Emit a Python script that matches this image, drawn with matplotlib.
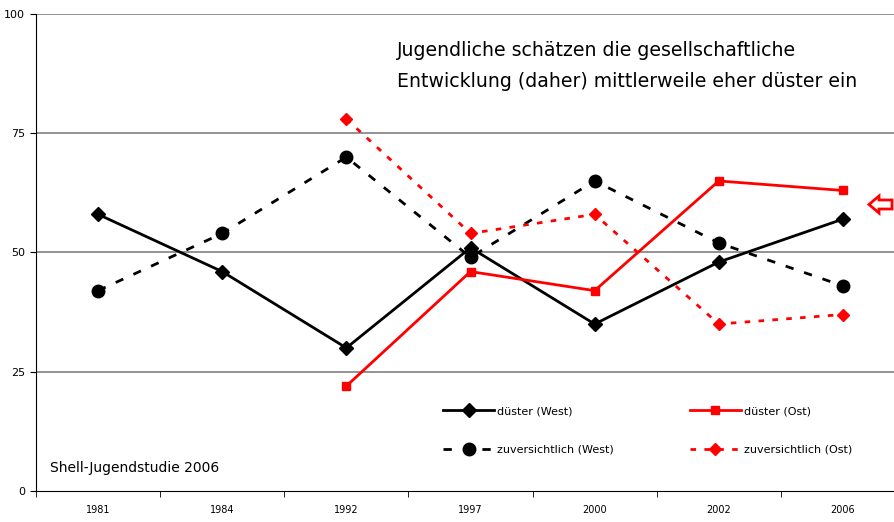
import matplotlib
matplotlib.use('Agg')
import matplotlib.pyplot as plt
from matplotlib.patches import Polygon

plt.rcParams['font.family'] = ['DejaVu Sans']

years = ['1981', '1984', '1992', '1997', '2000', '2002', '2006']
duester_west = [58, 46, 30, 51, 35, 48, 57]
duester_ost = [None, None, 22, 46, 42, 65, 63]
zuversicht_west = [42, 54, 70, 49, 65, 52, 43]
zuversicht_ost = [None, None, 78, 54, 58, 35, 37]
y_ticks = [0, 25, 50, 75, 100]

fig = plt.figure(figsize=(8.94, 5.22), dpi=100)
ax = fig.add_axes([36 / 894, 31 / 522, (905 - 36) / 894, (491 - 14) / 522])

x = list(range(len(years)))

def pts(vals):
    xs = [i for i, v in zip(x, vals) if v is not None]
    ys = [v for v in vals if v is not None]
    return xs, ys

l_dw, = ax.plot(*pts(duester_west), color='black', lw=2, marker='D', ms=7,
                label='düster (West)')
l_do, = ax.plot(*pts(duester_ost), color='red', lw=2, marker='s', ms=6,
                label='düster (Ost)')
l_zw, = ax.plot(*pts(zuversicht_west), color='black', lw=2, ls=(0, (3, 4)),
                marker='o', ms=9, label='zuversichtlich (West)')
l_zo, = ax.plot(*pts(zuversicht_ost), color='red', lw=2, ls=(0, (2, 3)),
                marker='D', ms=6, label='zuversichtlich (Ost)')

ax.set_xlim(-0.5, len(years) - 0.5)
ax.set_ylim(0, 100)
ax.set_yticks(y_ticks)
ax.set_yticklabels([str(t) for t in y_ticks], fontsize=8)
ax.set_xticks(x)
ax.set_xticklabels(years, fontsize=7)
ax.tick_params(axis='x', length=0, pad=10)
ax.set_xticks([i + 0.5 for i in x[:-1]] + [-0.5], minor=True)
ax.tick_params(axis='x', which='minor', length=4, direction='out')
ax.tick_params(axis='y', length=4, direction='out', pad=4)

for t in y_ticks[1:]:
    ax.axhline(t, color='#808080', lw=1.2, zorder=0)

ax.spines['top'].set_visible(False)
ax.spines['right'].set_visible(False)

fig.text(397 / 894, 1 - 66 / 522,
         'Jugendliche schätzen die gesellschaftliche\n'
         'Entwicklung (daher) mittlerweile eher düster ein',
         fontsize=13.6, va='center', ha='left', linespacing=1.75)
fig.text(50 / 894, 1 - 468 / 522, 'Shell-Jugendstudie 2006', fontsize=10,
         va='center', ha='left')

# ncol=2 fills column-wise: West entries first, then Ost
ax.legend([l_dw, l_zw, l_do, l_zo],
          ['düster (West)', 'zuversichtlich (West)', 'düster (Ost)',
           'zuversichtlich (Ost)'],
          ncol=2, frameon=False, fontsize=8, handlelength=4.6,
          handletextpad=0.3, columnspacing=6.8, labelspacing=2.6,
          loc='upper left', bbox_to_anchor=(433 / 894, 1 - 396 / 522),
          bbox_transform=fig.transFigure)

arrow = [(869, 204.5), (879, 196), (879, 200), (892, 200), (892, 209),
         (879, 209), (879, 213)]
arrow = [(px / 894, 1 - py / 522) for px, py in arrow]
fig.patches.append(Polygon(arrow, closed=True, facecolor='white',
                           edgecolor='red', lw=2, transform=fig.transFigure))

plt.savefig('out.png', dpi=100)
plt.close(fig)
